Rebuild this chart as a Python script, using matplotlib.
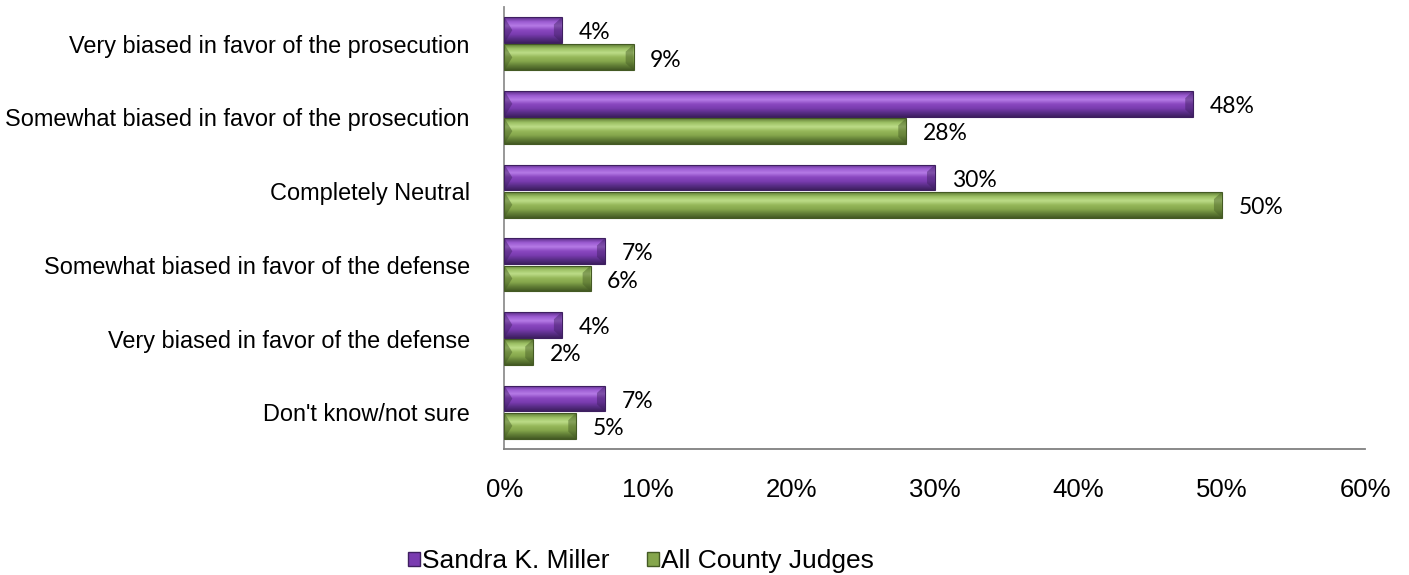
import numpy as np
import matplotlib
matplotlib.use('Agg')
import matplotlib.pyplot as plt
from matplotlib import font_manager
from matplotlib.colors import LinearSegmentedColormap
from matplotlib.patches import Patch, Polygon

# data
categories = [
    'Very biased in favor of the prosecution',
    'Somewhat biased in favor of the prosecution',
    'Completely Neutral',
    'Somewhat biased in favor of the defense',
    'Very biased in favor of the defense',
    "Don't know/not sure",
]
miller = [4, 48, 30, 7, 4, 7]
all_judges = [9, 28, 50, 6, 2, 5]
series_names = ['Sandra K. Miller', 'All County Judges']
xticks = [0, 10, 20, 30, 40, 50, 60]

# bevel-ish gradients (top -> bottom)
purple_cm = LinearSegmentedColormap.from_list(
    'purple', ['#5a2d86', '#9a5ad0', '#b57ae6', '#8a48c0', '#7a3cb0', '#5a2e88', '#3e1f60'])
green_cm = LinearSegmentedColormap.from_list(
    'green', ['#5e7a34', '#9cc064', '#bcdc88', '#96b85a', '#85a64c', '#617e36', '#445a24'])

arial = 'Liberation Sans'
# the category and legend text in the original is a condensed Arial
names = {f.name for f in font_manager.fontManager.ttflist}
if 'Liberation Sans Narrow' in names:
    narrow, cat_size, leg_size = 'Liberation Sans Narrow', 20.6, 23.2
else:
    narrow, cat_size, leg_size = arial, 16.9, 19
leg_em = leg_size * 100 / 72

fig = plt.figure(figsize=(14.09, 5.75), dpi=100)
ax = fig.add_axes([0.358, 0.219, 0.611, 0.769])

y = np.arange(len(categories))
h = 0.35
off = 0.185
cap = 0.55  # bevel depth at bar ends, in % units


def gradient_bars(bars, cmap, edge):
    grad = np.linspace(0, 1, 64).reshape(-1, 1)
    for b in bars:
        x0, y0 = b.get_x(), b.get_y()
        w, hh = b.get_width(), b.get_height()
        x1, y1 = x0 + w, y0 + hh
        im = ax.imshow(grad, cmap=cmap, aspect='auto', interpolation='bilinear',
                       extent=[x0, x1, y1, y0], zorder=2)
        im.set_clip_path(b)
        # darker bevels at both ends
        for pts in ([(x1, y0), (x1, y1), (x1 - cap, y1 - hh * 0.28), (x1 - cap, y0 + hh * 0.28)],
                    [(x0, y0), (x0, y1), (x0 + cap, y0 + hh * 0.5)]):
            ax.add_patch(Polygon(pts, closed=True, facecolor=edge, alpha=0.45,
                                 edgecolor='none', zorder=2.5))
        b.set_facecolor('none')
        b.set_edgecolor(edge)
        b.set_linewidth(0.8)
        b.set_zorder(3)


b1 = ax.barh(y - off, miller, height=h, color='#7a3cb0')
b2 = ax.barh(y + off, all_judges, height=h, color='#85a64c')
gradient_bars(b1, purple_cm, '#3e1f60')
gradient_bars(b2, green_cm, '#445a24')

for bars, vals in [(b1, miller), (b2, all_judges)]:
    for b, v in zip(bars, vals):
        ax.annotate(f'{v}%', (b.get_width(), b.get_y() + b.get_height() / 2),
                    xytext=(12, -2), textcoords='offset points',
                    ha='left', va='center', fontsize=16.5, family='Lato')

ax.set_xlim(0, 60)
ax.set_ylim(len(categories) - 0.5, -0.5)
ax.set_yticks(y)
ax.set_yticklabels(categories)
ax.set_xticks(xticks)
ax.set_xticklabels([f'{t}%' for t in xticks])
for lab in ax.get_yticklabels():
    lab.set_fontfamily(narrow)
    lab.set_fontsize(cat_size)
for lab in ax.get_xticklabels():
    lab.set_fontfamily(arial)
    lab.set_fontsize(18.5)
ax.tick_params(axis='y', length=0, pad=25)
ax.tick_params(axis='x', length=0, pad=21)
ax.spines['top'].set_visible(False)
ax.spines['right'].set_visible(False)
ax.spines['left'].set_color('#909090')
ax.spines['bottom'].set_color('#808080')
ax.spines['left'].set_linewidth(1.3)
ax.spines['bottom'].set_linewidth(1.3)

handles = [Patch(facecolor='#7a3cb0', edgecolor='#3e1f60'),
           Patch(facecolor='#85a64c', edgecolor='#445a24')]
fig.legend(handles, series_names, loc='center', bbox_to_anchor=(0.455, 0.024),
           ncol=2, frameon=False, prop={'family': narrow, 'size': leg_size},
           handlelength=12 / leg_em, handleheight=12 / leg_em,
           handletextpad=2 / leg_em, columnspacing=37 / leg_em, borderpad=0)

plt.savefig('out.png', dpi=100)
plt.close()
